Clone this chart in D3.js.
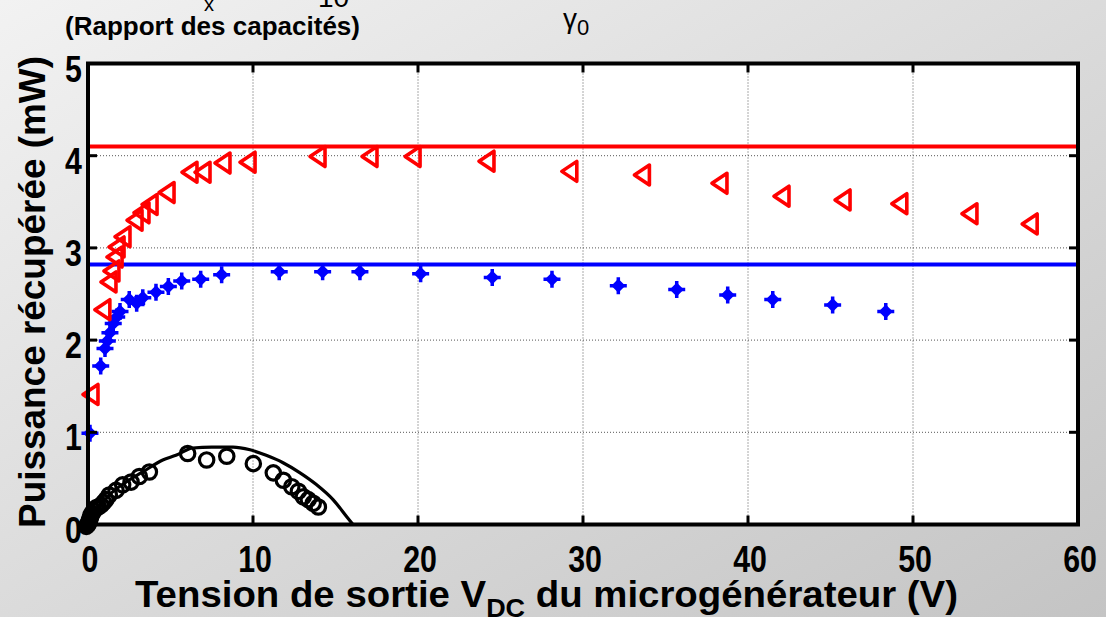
<!DOCTYPE html>
<html>
<head>
<meta charset="utf-8">
<script src="https://cdn.jsdelivr.net/npm/d3@7"></script>
<style>
body { margin: 0; overflow: hidden; }
svg { display: block; }
text { font-family: "Liberation Sans", Arial, sans-serif; }
</style>
</head>
<body>
<div id="chart"></div>
<script>
// axes
var xTicks = [0, 10, 20, 30, 40, 50, 60];
var yTicks = [0, 1, 2, 3, 4, 5];

// horizontal reference levels (mW)
var redLevel = 4.1;
var blueLevel = 2.82;

// red triangles
var triV = [0.18, 0.9, 1.27, 1.45, 1.64, 1.76, 2.12, 2.85, 3.27, 3.76, 4.79, 6.18, 6.97, 8.18, 9.7,
            13.94, 17.09, 19.7, 24.18, 29.2, 33.6, 38.3, 42.06, 45.76, 49.2, 53.45, 57.1];
var triP = [1.41, 2.33, 2.63, 2.75, 2.9, 3.01, 3.12, 3.3, 3.38, 3.47, 3.6, 3.82, 3.82, 3.92, 3.93,
            3.99, 3.99, 3.99, 3.94, 3.83, 3.79, 3.7, 3.56, 3.52, 3.48, 3.37, 3.26];

// blue diamonds
var diaV = [0.12, 0.77, 1.03, 1.17, 1.33, 1.53, 1.74, 1.94, 2.5, 2.95, 3.32, 4.12, 4.87, 5.68, 6.83, 8.1,
            11.59, 14.22, 16.48, 20.16, 24.5, 28.12, 32.14, 35.68, 38.77, 41.5, 45.13, 48.35];
var diaP = [0.99, 1.72, 1.91, 1.99, 2.08, 2.18, 2.25, 2.31, 2.44, 2.4, 2.46, 2.52, 2.58, 2.64, 2.66, 2.71,
            2.74, 2.74, 2.74, 2.72, 2.68, 2.66, 2.59, 2.55, 2.49, 2.44, 2.38, 2.31];

// black circles
var circV = [-0.1, 0, 0.03, 0.06, 0.1, 0.14, 0.18, 0.25, 0.35, 0.48, 0.62, 0.79, 0.95, 1.09, 1.29, 1.7, 2.1,
             2.61, 3.11, 3.72, 6.04, 7.19, 8.41, 10.02, 11.23, 11.84, 12.35, 12.75, 13.05, 13.35, 13.65, 13.96];
var circP = [-0.02, 0, 0.02, 0.03, 0.05, 0.07, 0.1, 0.12, 0.15, 0.18, 0.19, 0.21, 0.24, 0.27, 0.32, 0.37, 0.43,
             0.46, 0.52, 0.57, 0.77, 0.7, 0.74, 0.66, 0.56, 0.48, 0.41, 0.36, 0.3, 0.27, 0.23, 0.19];

// black curve
var curveV = [0, 0.48, 1.29, 2.3, 3.32, 4.53, 5.33, 6.35, 7.5, 8.79, 9.82, 10.8, 11.82, 12.85, 13.86, 14.85, 15.68, 16.06];
var curveP = [0, 0.14, 0.32, 0.46, 0.57, 0.7, 0.75, 0.83, 0.84, 0.84, 0.81, 0.75, 0.67, 0.56, 0.43, 0.27, 0.085, 0];

var width = 1106, height = 617;
var svg = d3.select("#chart").append("svg")
    .attr("width", width)
    .attr("height", height);

var grad = svg.append("defs").append("linearGradient")
    .attr("id", "bg")
    .attr("x1", 0).attr("y1", 0).attr("x2", 1).attr("y2", 1);
grad.append("stop").attr("offset", "0%").attr("stop-color", "#f2f2f2");
grad.append("stop").attr("offset", "100%").attr("stop-color", "#c4c4c4");

svg.append("rect").attr("width", width).attr("height", height).attr("fill", "url(#bg)");

var x = d3.scaleLinear().domain([0, 60]).range([88, 1078]);
var y = d3.scaleLinear().domain([0, 5]).range([524.5, 63.5]);

// plot area
svg.append("rect")
    .attr("x", x(0)).attr("y", y(5))
    .attr("width", x(60) - x(0)).attr("height", y(0) - y(5))
    .attr("fill", "#fff");

// dotted grid
var grid = svg.append("g").attr("stroke", "#555").attr("stroke-width", 1).attr("stroke-dasharray", "1,2");
grid.selectAll(".gx").data(xTicks.slice(1, -1)).enter().append("line")
    .attr("x1", function(d) { return x(d); }).attr("x2", function(d) { return x(d); })
    .attr("y1", y(0)).attr("y2", y(5));
grid.selectAll(".gy").data(yTicks.slice(1, -1)).enter().append("line")
    .attr("y1", function(d) { return y(d); }).attr("y2", function(d) { return y(d); })
    .attr("x1", x(0)).attr("x2", x(60));

// reference lines
svg.append("line")
    .attr("x1", x(0)).attr("x2", x(60))
    .attr("y1", y(redLevel)).attr("y2", y(redLevel))
    .attr("stroke", "#ff0000").attr("stroke-width", 4);
svg.append("line")
    .attr("x1", x(0)).attr("x2", x(60))
    .attr("y1", y(blueLevel)).attr("y2", y(blueLevel))
    .attr("stroke", "#0000ff").attr("stroke-width", 4);

// curve
var curvePts = curveV.map(function(v, i) { return [v, curveP[i]]; });
svg.append("path")
    .datum(curvePts)
    .attr("fill", "none")
    .attr("stroke", "#000")
    .attr("stroke-width", 3.2)
    .attr("d", d3.line()
        .x(function(d) { return x(d[0]); })
        .y(function(d) { return y(d[1]); })
        .curve(d3.curveMonotoneX));

// circles
svg.append("g").selectAll("circle")
    .data(circV.map(function(v, i) { return [v, circP[i]]; }))
    .enter().append("circle")
    .attr("cx", function(d) { return x(d[0]); })
    .attr("cy", function(d) { return y(d[1]); })
    .attr("r", 7.2)
    .attr("fill", "none")
    .attr("stroke", "#000")
    .attr("stroke-width", 3.2);

// blue diamonds
var dia = svg.append("g").selectAll("g")
    .data(diaV.map(function(v, i) { return [v, diaP[i]]; }))
    .enter().append("g")
    .attr("transform", function(d) { return "translate(" + x(d[0]) + "," + y(d[1]) + ")"; });
dia.append("path")
    .attr("d", "M0,-7L7,0L0,7L-7,0Z")
    .attr("fill", "#0000ff");
dia.append("path")
    .attr("d", "M0,-8.5V8.5M-8.5,0H8.5")
    .attr("stroke", "#0000ff")
    .attr("stroke-width", 3.5);

// red triangles
svg.append("g").selectAll("path")
    .data(triV.map(function(v, i) { return [v, triP[i]]; }))
    .enter().append("path")
    .attr("transform", function(d) { return "translate(" + x(d[0]) + "," + y(d[1]) + ")"; })
    .attr("d", "M-8,0L7,-10L7,10Z")
    .attr("fill", "none")
    .attr("stroke", "#ff0000")
    .attr("stroke-width", 3.6)
    .attr("stroke-linejoin", "round");

// inward ticks
var ticks = svg.append("g").attr("stroke", "#000").attr("stroke-width", 3);
xTicks.slice(1, -1).forEach(function(d) {
    ticks.append("line").attr("x1", x(d)).attr("x2", x(d)).attr("y1", y(0)).attr("y2", y(0) - 9);
    ticks.append("line").attr("x1", x(d)).attr("x2", x(d)).attr("y1", y(5)).attr("y2", y(5) + 9);
});
yTicks.slice(1, -1).forEach(function(d) {
    ticks.append("line").attr("y1", y(d)).attr("y2", y(d)).attr("x1", x(0)).attr("x2", x(0) + 9);
    ticks.append("line").attr("y1", y(d)).attr("y2", y(d)).attr("x1", x(60)).attr("x2", x(60) - 9);
});

// frame
svg.append("rect")
    .attr("x", x(0)).attr("y", y(5))
    .attr("width", x(60) - x(0)).attr("height", y(0) - y(5))
    .attr("fill", "none")
    .attr("stroke", "#000")
    .attr("stroke-width", 4);

// tick labels
svg.append("g").selectAll("text")
    .data(xTicks).enter().append("text")
    .attr("transform", function(d) { return "translate(" + (x(d) + 2) + ",572) scale(0.82,1)"; })
    .attr("text-anchor", "middle")
    .attr("font-size", 37)
    .attr("font-weight", "bold")
    .text(function(d) { return d; });
svg.append("g").selectAll("text")
    .data(yTicks).enter().append("text")
    .attr("transform", function(d) { return "translate(82," + (y(d) + 18) + ") scale(0.82,1)"; })
    .attr("text-anchor", "end")
    .attr("font-size", 37)
    .attr("font-weight", "bold")
    .text(function(d) { return d; });

// axis titles
var xt = svg.append("text")
    .attr("x", 135).attr("y", 607)
    .attr("font-size", 37)
    .attr("font-weight", "bold")
    .attr("textLength", 823)
    .attr("lengthAdjust", "spacingAndGlyphs");
xt.append("tspan").text("Tension de sortie V");
xt.append("tspan").attr("font-size", 26).attr("dy", 10).text("DC");
xt.append("tspan").attr("dy", -10).text(" du microgénérateur (V)");

svg.append("text")
    .attr("transform", "translate(45,292) rotate(-90)")
    .attr("text-anchor", "middle")
    .attr("font-size", 36)
    .attr("font-weight", "bold")
    .attr("textLength", 472)
    .attr("lengthAdjust", "spacingAndGlyphs")
    .text("Puissance récupérée (mW)");

// header remnants
svg.append("text")
    .attr("x", 65).attr("y", 35)
    .attr("font-size", 26)
    .attr("font-weight", "bold")
    .attr("textLength", 295)
    .attr("lengthAdjust", "spacingAndGlyphs")
    .text("(Rapport des capacités)");
svg.append("text").attr("x", 204).attr("y", 11).attr("font-size", 20).text("x");
svg.append("text").attr("x", 318).attr("y", 7).attr("font-size", 28).text("10");
var g0 = svg.append("text").attr("x", 563).attr("y", 28).attr("font-size", 28);
g0.append("tspan").text("γ");
g0.append("tspan").attr("dy", 7).attr("font-size", 22).text("0");
</script>
</body>
</html>
